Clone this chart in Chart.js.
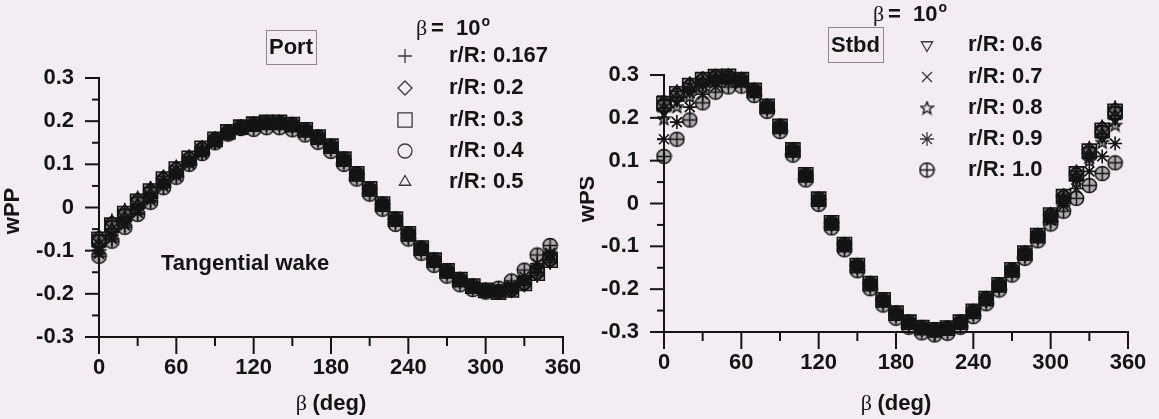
<!DOCTYPE html>
<html>
<head>
<meta charset="utf-8">
<script src="https://cdn.jsdelivr.net/npm/chart.js@4.4.1/dist/chart.umd.min.js"></script>
<style>
  html, body { margin: 0; padding: 0; background: #f3edf3; }
  #wrap { position: relative; width: 1159px; height: 419px; overflow: hidden; }
  canvas { position: absolute; top: 0; }
  #port { left: 0; width: 580px; height: 419px; }
  #stbd { left: 580px; width: 579px; height: 419px; }
</style>
</head>
<body>
<div id="wrap">
  <canvas id="port" width="580" height="419"></canvas>
  <canvas id="stbd" width="579" height="419"></canvas>
</div>
<script>
// --- Data ---
const ANGLES = [0, 10, 20, 30, 40, 50, 60, 70, 80, 90, 100, 110, 120, 130, 140, 150, 160, 170,
  180, 190, 200, 210, 220, 230, 240, 250, 260, 270, 280, 290, 300, 310, 320, 330, 340, 350];
const RADII = ['0.167', '0.2', '0.3', '0.4', '0.5', '0.6', '0.7', '0.8', '0.9', '1.0'];
const X_TICKS = [0, 60, 120, 180, 240, 300, 360];
const Y_TICKS = [-0.3, -0.2, -0.1, 0, 0.1, 0.2, 0.3];

// Port side, tangential wake wPP
const PORT_0167 = [-0.063, -0.03, -0.005, 0.023, 0.046, 0.072, 0.095, 0.118, 0.14, 0.16, 0.176, 0.187, 0.193, 0.197, 0.197, 0.192, 0.18, 0.163, 0.142, 0.112, 0.078, 0.043, 0.008, -0.027, -0.061, -0.094, -0.122, -0.147, -0.167, -0.182, -0.192, -0.196, -0.193, -0.18, -0.158, -0.128];
const PORT_02 = [-0.069, -0.035, -0.01, 0.019, 0.042, 0.069, 0.092, 0.116, 0.138, 0.159, 0.175, 0.187, 0.193, 0.197, 0.197, 0.192, 0.18, 0.163, 0.142, 0.112, 0.078, 0.043, 0.008, -0.027, -0.061, -0.094, -0.122, -0.147, -0.167, -0.182, -0.192, -0.196, -0.192, -0.178, -0.155, -0.125];
const PORT_03 = [-0.074, -0.041, -0.014, 0.014, 0.038, 0.066, 0.089, 0.114, 0.137, 0.158, 0.175, 0.186, 0.193, 0.197, 0.197, 0.192, 0.18, 0.163, 0.142, 0.112, 0.078, 0.043, 0.008, -0.027, -0.061, -0.094, -0.122, -0.147, -0.167, -0.182, -0.192, -0.196, -0.191, -0.176, -0.152, -0.122];
const PORT_04 = [-0.08, -0.046, -0.019, 0.01, 0.035, 0.063, 0.087, 0.112, 0.135, 0.157, 0.174, 0.186, 0.193, 0.197, 0.197, 0.192, 0.18, 0.163, 0.142, 0.112, 0.078, 0.043, 0.008, -0.027, -0.061, -0.094, -0.122, -0.147, -0.167, -0.182, -0.192, -0.196, -0.19, -0.174, -0.149, -0.119];
const PORT_05 = [-0.085, -0.051, -0.023, 0.006, 0.031, 0.06, 0.084, 0.11, 0.133, 0.156, 0.173, 0.185, 0.193, 0.197, 0.197, 0.192, 0.18, 0.163, 0.142, 0.112, 0.078, 0.043, 0.008, -0.027, -0.061, -0.094, -0.122, -0.147, -0.167, -0.182, -0.192, -0.195, -0.189, -0.172, -0.146, -0.116];
const PORT_06 = [-0.091, -0.057, -0.028, 0.001, 0.027, 0.058, 0.081, 0.108, 0.132, 0.154, 0.173, 0.185, 0.193, 0.197, 0.197, 0.192, 0.18, 0.163, 0.142, 0.112, 0.078, 0.043, 0.008, -0.027, -0.061, -0.094, -0.122, -0.147, -0.167, -0.182, -0.192, -0.195, -0.188, -0.17, -0.143, -0.113];
const PORT_07 = [-0.096, -0.062, -0.032, -0.003, 0.023, 0.055, 0.078, 0.106, 0.13, 0.153, 0.172, 0.184, 0.193, 0.197, 0.197, 0.192, 0.18, 0.163, 0.142, 0.112, 0.078, 0.043, 0.008, -0.027, -0.061, -0.094, -0.122, -0.147, -0.167, -0.182, -0.192, -0.195, -0.187, -0.168, -0.14, -0.11];
const PORT_08 = [-0.102, -0.067, -0.037, -0.007, 0.02, 0.052, 0.076, 0.104, 0.128, 0.152, 0.171, 0.184, 0.193, 0.197, 0.197, 0.192, 0.18, 0.163, 0.142, 0.112, 0.078, 0.043, 0.008, -0.027, -0.061, -0.094, -0.122, -0.147, -0.167, -0.182, -0.192, -0.194, -0.186, -0.166, -0.137, -0.107];
const PORT_09 = [-0.107, -0.073, -0.041, -0.012, 0.016, 0.049, 0.073, 0.102, 0.127, 0.151, 0.171, 0.183, 0.187, 0.191, 0.191, 0.186, 0.174, 0.157, 0.136, 0.106, 0.072, 0.037, 0.002, -0.033, -0.067, -0.1, -0.128, -0.153, -0.173, -0.186, -0.195, -0.193, -0.18, -0.16, -0.13, -0.105];
const PORT_10 = [-0.113, -0.078, -0.046, -0.016, 0.012, 0.046, 0.07, 0.1, 0.125, 0.15, 0.17, 0.183, 0.181, 0.185, 0.185, 0.18, 0.168, 0.151, 0.13, 0.1, 0.066, 0.031, -0.004, -0.039, -0.073, -0.106, -0.134, -0.159, -0.179, -0.19, -0.196, -0.187, -0.17, -0.145, -0.11, -0.088];

// Starboard side, tangential wake wPS
const STBD_0167 = [0.24, 0.262, 0.28, 0.292, 0.298, 0.298, 0.29, 0.264, 0.227, 0.18, 0.125, 0.067, 0.01, -0.045, -0.096, -0.145, -0.187, -0.225, -0.256, -0.277, -0.29, -0.295, -0.291, -0.277, -0.252, -0.222, -0.19, -0.155, -0.116, -0.075, -0.025, 0.02, 0.075, 0.13, 0.18, 0.225];
const STBD_02 = [0.237, 0.259, 0.278, 0.291, 0.297, 0.298, 0.29, 0.264, 0.227, 0.18, 0.125, 0.067, 0.01, -0.045, -0.096, -0.145, -0.187, -0.225, -0.256, -0.277, -0.29, -0.295, -0.291, -0.277, -0.252, -0.222, -0.19, -0.155, -0.116, -0.075, -0.026, 0.018, 0.072, 0.126, 0.176, 0.22];
const STBD_03 = [0.233, 0.256, 0.275, 0.289, 0.296, 0.297, 0.289, 0.264, 0.227, 0.18, 0.125, 0.067, 0.01, -0.045, -0.096, -0.145, -0.187, -0.225, -0.256, -0.277, -0.29, -0.295, -0.291, -0.277, -0.252, -0.222, -0.19, -0.155, -0.116, -0.075, -0.027, 0.016, 0.069, 0.122, 0.171, 0.215];
const STBD_04 = [0.228, 0.252, 0.272, 0.287, 0.295, 0.296, 0.289, 0.264, 0.227, 0.18, 0.125, 0.067, 0.01, -0.045, -0.096, -0.145, -0.187, -0.225, -0.256, -0.277, -0.29, -0.295, -0.291, -0.277, -0.252, -0.222, -0.19, -0.155, -0.116, -0.075, -0.028, 0.014, 0.066, 0.118, 0.166, 0.21];
const STBD_05 = [0.222, 0.247, 0.268, 0.284, 0.293, 0.295, 0.288, 0.264, 0.227, 0.18, 0.125, 0.067, 0.01, -0.045, -0.096, -0.145, -0.187, -0.225, -0.256, -0.277, -0.29, -0.295, -0.291, -0.277, -0.252, -0.222, -0.19, -0.155, -0.116, -0.075, -0.029, 0.012, 0.063, 0.114, 0.161, 0.204];
const STBD_06 = [0.215, 0.241, 0.263, 0.281, 0.291, 0.294, 0.288, 0.264, 0.227, 0.18, 0.125, 0.067, 0.01, -0.045, -0.096, -0.145, -0.187, -0.225, -0.256, -0.277, -0.29, -0.295, -0.291, -0.277, -0.252, -0.222, -0.19, -0.155, -0.116, -0.075, -0.03, 0.01, 0.06, 0.11, 0.156, 0.198];
const STBD_07 = [0.207, 0.234, 0.257, 0.277, 0.289, 0.293, 0.287, 0.264, 0.227, 0.18, 0.125, 0.067, 0.01, -0.045, -0.096, -0.145, -0.187, -0.225, -0.256, -0.277, -0.29, -0.295, -0.291, -0.277, -0.252, -0.222, -0.19, -0.155, -0.116, -0.075, -0.032, 0.007, 0.056, 0.105, 0.15, 0.191];
const STBD_08 = [0.198, 0.226, 0.25, 0.272, 0.286, 0.291, 0.286, 0.264, 0.227, 0.18, 0.125, 0.067, 0.01, -0.045, -0.096, -0.145, -0.187, -0.225, -0.256, -0.277, -0.29, -0.295, -0.291, -0.277, -0.252, -0.222, -0.19, -0.155, -0.116, -0.075, -0.034, 0.004, 0.052, 0.1, 0.143, 0.183];
const STBD_09 = [0.15, 0.19, 0.225, 0.255, 0.273, 0.282, 0.28, 0.258, 0.221, 0.174, 0.119, 0.061, 0.004, -0.051, -0.102, -0.151, -0.193, -0.231, -0.262, -0.283, -0.296, -0.301, -0.297, -0.283, -0.258, -0.228, -0.196, -0.161, -0.122, -0.081, -0.04, -0.005, 0.035, 0.075, 0.11, 0.14];
const STBD_10 = [0.11, 0.15, 0.195, 0.235, 0.26, 0.272, 0.274, 0.252, 0.215, 0.168, 0.113, 0.055, -0.002, -0.057, -0.108, -0.157, -0.199, -0.237, -0.268, -0.289, -0.302, -0.307, -0.303, -0.289, -0.264, -0.234, -0.202, -0.167, -0.128, -0.087, -0.048, -0.018, 0.012, 0.042, 0.07, 0.095];

const PORT_SERIES = [PORT_0167, PORT_02, PORT_03, PORT_04, PORT_05, PORT_06, PORT_07, PORT_08, PORT_09, PORT_10];
const STBD_SERIES = [STBD_0167, STBD_02, STBD_03, STBD_04, STBD_05, STBD_06, STBD_07, STBD_08, STBD_09, STBD_10];

// --- Styling ---
const INK = '#141414';
const SHADE = 'rgba(20, 20, 20, 0.3)';   // light fill, overlapping symbols go dark like the print
const SANS = '"Liberation Sans", Arial, sans-serif';
const SERIF = '"Liberation Serif", "Times New Roman", serif';

// custom glyphs for the open star and the circled plus
function starGlyph(fill) {
    const c = document.createElement('canvas');
    c.width = 15; c.height = 15;
    const g = c.getContext('2d');
    g.strokeStyle = INK; g.lineWidth = 1.4;
    g.beginPath();
    for (let i = 0; i < 10; i++) {
        const r = i % 2 === 0 ? 6.6 : 2.8;
        const a = -Math.PI / 2 + i * Math.PI / 5;
        const px = 7.5 + r * Math.cos(a), py = 7.9 + r * Math.sin(a);
        if (i === 0) g.moveTo(px, py); else g.lineTo(px, py);
    }
    g.closePath();
    if (fill) { g.fillStyle = fill; g.fill(); }
    g.stroke();
    return c;
}

function circlePlusGlyph(fill) {
    const c = document.createElement('canvas');
    c.width = 17; c.height = 17;
    const g = c.getContext('2d');
    g.strokeStyle = INK; g.lineWidth = 1.5;
    g.beginPath();
    g.arc(8.5, 8.5, 7.1, 0, Math.PI * 2);
    if (fill) { g.fillStyle = fill; g.fill(); }
    g.moveTo(1.3, 8.5); g.lineTo(15.7, 8.5);
    g.moveTo(8.5, 1.3); g.lineTo(8.5, 15.7);
    g.stroke();
    return c;
}

const MARKS = [
    { pointStyle: 'cross', radius: 7 },
    { pointStyle: 'rectRot', radius: 7 },
    { pointStyle: 'rect', radius: 10 },
    { pointStyle: 'circle', radius: 7 },
    { pointStyle: 'triangle', radius: 6.5 },
    { pointStyle: 'triangle', radius: 6.5, rotation: 180 },
    { pointStyle: 'crossRot', radius: 7 },
    { pointStyle: starGlyph(SHADE), legendStyle: starGlyph(null), radius: 7 },
    { pointStyle: 'star', radius: 7 },
    { pointStyle: circlePlusGlyph(SHADE), legendStyle: circlePlusGlyph(null), radius: 8 }
];

function buildDatasets(seriesList) {
    return seriesList.map((vals, k) => ({
        label: 'r/R: ' + RADII[k],
        data: ANGLES.map((a, i) => ({ x: a, y: vals[i] })),
        showLine: false,
        pointStyle: MARKS[k].pointStyle,
        pointRadius: MARKS[k].radius,
        pointHoverRadius: MARKS[k].radius,
        pointRotation: MARKS[k].rotation || 0,
        pointBorderColor: INK,
        pointBackgroundColor: SHADE,
        pointBorderWidth: 1.6,
        clip: false
    }));
}

// --- Plugins ---

// major / minor tick marks outside the axes
const tickMarks = {
    id: 'tickMarks',
    afterDraw(chart) {
        const ctx = chart.ctx;
        const area = chart.chartArea;
        const xs = chart.scales.x, ys = chart.scales.y;
        ctx.save();
        ctx.strokeStyle = INK;
        ctx.lineWidth = 2;
        xs.ticks.forEach(t => {
            const px = xs.getPixelForValue(t.value);
            const len = X_TICKS.includes(t.value) ? 17 : 9;
            ctx.beginPath();
            ctx.moveTo(px, area.bottom);
            ctx.lineTo(px, area.bottom + len);
            ctx.stroke();
        });
        ys.ticks.forEach(t => {
            const py = ys.getPixelForValue(t.value);
            const major = Y_TICKS.some(v => Math.abs(v - t.value) < 1e-6);
            ctx.beginPath();
            ctx.moveTo(area.left, py);
            ctx.lineTo(area.left - (major ? 14 : 7), py);
            ctx.stroke();
        });
        ctx.restore();
    }
};

function drawBetaTitle(ctx, x, y) {
    ctx.textAlign = 'left';
    ctx.font = '22px ' + SERIF;
    ctx.fillText('\u03b2', x, y);
    ctx.font = 'bold 22px ' + SANS;
    ctx.fillText('=', x + 15, y);
    ctx.fillText('10', x + 40, y);
    const w = ctx.measureText('10').width;
    ctx.font = 'bold 14px ' + SANS;
    ctx.fillText('o', x + 41 + w, y - 7);
}

// labels, box, legend and axis titles
const annotate = {
    id: 'annotate',
    afterDraw(chart, args, opts) {
        const ctx = chart.ctx;
        ctx.save();
        ctx.fillStyle = INK;
        ctx.textBaseline = 'middle';

        // side label in a thin box
        ctx.strokeStyle = '#8a8a8a';
        ctx.lineWidth = 1;
        ctx.strokeRect(opts.box.x + 0.5, opts.box.y + 0.5, opts.box.w, opts.box.h);
        ctx.font = 'bold 22px ' + SANS;
        ctx.textAlign = 'center';
        ctx.fillText(opts.box.text, opts.box.x + opts.box.w / 2, opts.box.y + opts.box.h / 2 + 1);

        // legend
        drawBetaTitle(ctx, opts.legend.titleX, opts.legend.titleY);
        opts.legend.items.forEach((k, i) => {
            const y = opts.legend.rows[i];
            ctx.save();
            ctx.strokeStyle = '#3a3a3a';
            ctx.fillStyle = 'rgba(0,0,0,0)';
            ctx.lineWidth = 1.3;
            Chart.helpers.drawPoint(ctx, {
                pointStyle: MARKS[k].legendStyle || MARKS[k].pointStyle,
                radius: MARKS[k].radius,
                rotation: MARKS[k].rotation || 0,
                borderWidth: 1.3
            }, opts.legend.symX, y);
            ctx.restore();
            ctx.font = 'bold 22px ' + SANS;
            ctx.textAlign = 'left';
            ctx.fillText('r/R: ' + RADII[k], opts.legend.textX, y);
        });

        if (opts.note) {
            ctx.font = 'bold 22px ' + SANS;
            ctx.textAlign = 'left';
            ctx.fillText(opts.note.text, opts.note.x, opts.note.y);
        }

        // x axis title: beta (deg)
        ctx.font = '22px ' + SERIF;
        const wb = ctx.measureText('\u03b2 ').width;
        ctx.font = 'bold 22px ' + SANS;
        const wd = ctx.measureText('(deg)').width;
        const x0 = opts.xTitle.x - (wb + wd) / 2;
        ctx.textAlign = 'left';
        ctx.font = '22px ' + SERIF;
        ctx.fillText('\u03b2', x0, opts.xTitle.y);
        ctx.font = 'bold 22px ' + SANS;
        ctx.fillText('(deg)', x0 + wb, opts.xTitle.y);

        // y axis title, rotated
        ctx.translate(opts.yTitle.x, opts.yTitle.y);
        ctx.rotate(-Math.PI / 2);
        ctx.textAlign = 'center';
        ctx.fillText(opts.yTitle.text, 0, 0);
        ctx.restore();
    }
};

function makeChart(canvasId, seriesList, geo, annot) {
    const tickFont = { family: SANS, size: 22, weight: 'bold' };
    return new Chart(document.getElementById(canvasId), {
        type: 'scatter',
        data: { datasets: buildDatasets(seriesList) },
        options: {
            responsive: false,
            animation: false,
            devicePixelRatio: 1,
            layout: { padding: { top: geo.top, right: geo.right, bottom: 0, left: 0 } },
            plugins: {
                legend: { display: false },
                tooltip: { enabled: false },
                annotate: annot
            },
            scales: {
                x: {
                    type: 'linear',
                    min: 0,
                    max: 360,
                    ticks: {
                        stepSize: 30,
                        autoSkip: false,
                        maxRotation: 0,
                        padding: 1,
                        color: INK,
                        font: tickFont,
                        callback: v => (X_TICKS.includes(v) ? String(v) : '')
                    },
                    grid: { drawOnChartArea: false, color: 'rgba(0,0,0,0)', tickLength: 17 },
                    border: { display: true, color: INK, width: 2 },
                    afterFit(s) { s.height = geo.xHeight; s.paddingLeft = 0; s.paddingRight = 0; }
                },
                y: {
                    min: -0.3,
                    max: 0.3,
                    ticks: {
                        stepSize: 0.05,
                        autoSkip: false,
                        padding: 11,
                        color: INK,
                        font: tickFont,
                        callback: v => {
                            const m = Y_TICKS.find(t => Math.abs(t - v) < 1e-6);
                            return m === undefined ? '' : String(m);
                        }
                    },
                    grid: { drawOnChartArea: false, color: 'rgba(0,0,0,0)', tickLength: 14 },
                    border: { display: true, color: INK, width: 2 },
                    afterFit(s) { s.width = geo.yWidth; s.paddingTop = 0; s.paddingBottom = 0; }
                }
            }
        },
        plugins: [tickMarks, annotate]
    });
}

makeChart('port', PORT_SERIES,
    { top: 78, right: 17, xHeight: 82, yWidth: 99 },
    {
        box: { x: 266, y: 30, w: 50, h: 34, text: 'Port' },
        legend: { titleX: 416, titleY: 29, symX: 405, textX: 449, rows: [56, 88, 120, 151, 182], items: [0, 1, 2, 3, 4] },
        note: { text: 'Tangential wake', x: 161, y: 264 },
        xTitle: { x: 331, y: 404 },
        yTitle: { x: 13, y: 211, text: 'wPP' }
    });

makeChart('stbd', STBD_SERIES,
    { top: 75, right: 31, xHeight: 87, yWidth: 84 },
    {
        box: { x: 248, y: 27, w: 55, h: 35, text: 'Stbd' },
        legend: { titleX: 293, titleY: 15, symX: 347, textX: 388, rows: [45, 77, 108, 139, 170], items: [5, 6, 7, 8, 9] },
        xTitle: { x: 316, y: 404 },
        yTitle: { x: 8, y: 199, text: 'wPS' }
    });
</script>
</body>
</html>
